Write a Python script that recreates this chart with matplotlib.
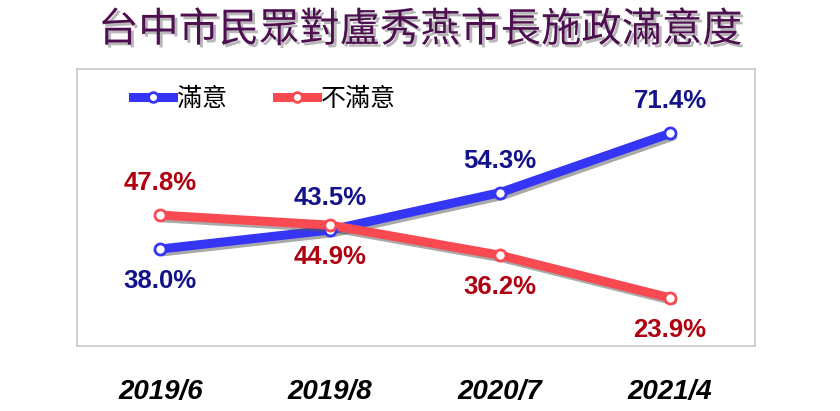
import numpy as np
import matplotlib.pyplot as plt
import matplotlib.patheffects as pe
from matplotlib.lines import Line2D

dates = ['2019/6', '2019/8', '2020/7', '2021/4']
satisfied = [38.0, 43.5, 54.3, 71.4]
unsatisfied = [47.8, 44.9, 36.2, 23.9]
# label above (+1) or below (-1) each point
sat_side = [-1, 1, 1, 1]
unsat_side = [1, -1, -1, -1]

blue = '#3535f5'
blue_txt = '#12128a'
red = '#f94a52'
red_txt = '#b00010'

num_font = ['Liberation Sans Narrow', 'Liberation Sans', 'DejaVu Sans']
cjk = ['Noto Sans CJK TC', 'DejaVu Sans']

fig = plt.figure(figsize=(8.4, 4.11), dpi=100)
ax = fig.add_axes([77/840, 1 - 346/411, (755-77)/840, (346-69)/411])

x = np.arange(len(dates))
shadow = [pe.SimpleLineShadow(offset=(2, -2), shadow_color='#555555', alpha=0.5), pe.Normal()]

for vals, col, tcol, side in [(satisfied, blue, blue_txt, sat_side),
                              (unsatisfied, red, red_txt, unsat_side)]:
    ax.plot(x, vals, color=col, lw=6.5, solid_capstyle='round', path_effects=shadow, zorder=3)
    ax.plot(x, vals, 'o', ms=8, mfc='white', mec=col, mew=2, zorder=4)
    for xi, v, s in zip(x, vals, side):
        ax.annotate(f'{v:.1f}%', (xi, v), xytext=(0, 23 * s), textcoords='offset points',
                    ha='center', va='center', fontsize=18.5, fontweight='bold',
                    color=tcol, family=num_font)

ax.set_xlim(-0.49, 3.5)
ax.set_ylim(10, 90)
ax.set_yticks([])
ax.set_xticks(x)
ax.set_xticklabels(dates, fontsize=20, fontweight='bold', fontstyle='italic', family=num_font)
ax.tick_params(axis='x', length=0, pad=24)
for sp in ax.spines.values():
    sp.set_color('#c8c8c8')
    sp.set_linewidth(1.2)

handles = [Line2D([0], [0], color=blue, lw=6.5, marker='o', ms=7, mfc='white', mec=blue, mew=2),
           Line2D([0], [0], color=red, lw=6.5, marker='o', ms=7, mfc='white', mec=red, mew=2)]
ax.legend(handles, ['滿意', '不滿意'], loc='upper left', bbox_to_anchor=(0.05, 1.02), ncol=2,
          frameon=False, handlelength=1.6, handletextpad=0.15, columnspacing=2.0,
          prop={'family': cjk, 'size': 18}, numpoints=1)

fig.text(0.5, 1 - 30/411, '台中市民眾對盧秀燕市長施政滿意度', ha='center', va='center',
         fontsize=29, fontweight='medium', color='#4e0f50', family=cjk,
         path_effects=[pe.withSimplePatchShadow(offset=(2, -2), shadow_rgbFace='#888888', alpha=0.6)])

fig.savefig('out.png', dpi=100)
